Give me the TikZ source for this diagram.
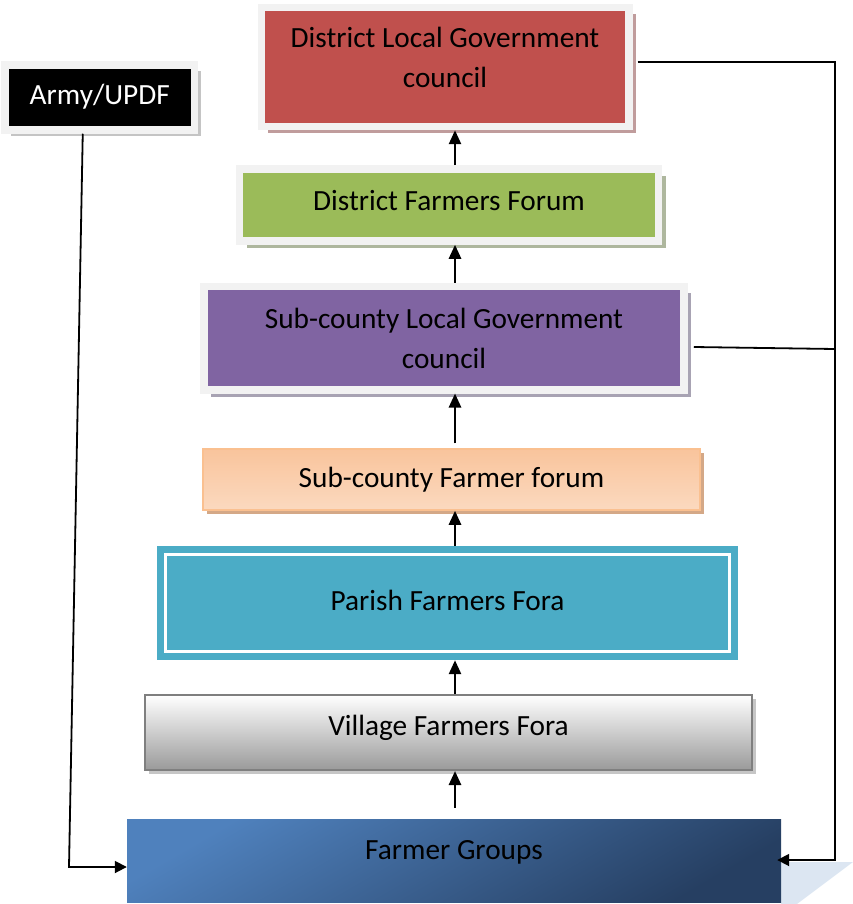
\documentclass[tikz,border=0pt]{standalone}
\usepackage{fontspec}
\setmainfont{Carlito}
\usetikzlibrary{arrows.meta,shadows}
\definecolor{framegray}{HTML}{F2F2F2}
\definecolor{dred}{HTML}{C0504D}
\definecolor{redshadow}{HTML}{C09C9C}
\definecolor{dgreen}{HTML}{9BBB59}
\definecolor{greenshadow}{HTML}{AEB79E}
\definecolor{dpurple}{HTML}{8064A2}
\definecolor{purpleshadow}{HTML}{A8A3B3}
\definecolor{armyshadow}{HTML}{C4C4C4}
\definecolor{orborder}{HTML}{FAC090}
\definecolor{ordark}{HTML}{F9C49C}
\definecolor{orlight}{HTML}{FDEADB}
\definecolor{ormid}{HTML}{FBD9BF}
\definecolor{orshadow}{HTML}{D4A887}
\definecolor{dteal}{HTML}{4BACC6}
\definecolor{vborder}{HTML}{7F7F7F}
\definecolor{vbottom}{HTML}{9A9A9A}
\definecolor{vshadow}{HTML}{C6C6C6}
\definecolor{bluelight}{HTML}{4F81BD}
\definecolor{bluedark}{HTML}{263F62}
\definecolor{paleblue}{HTML}{DCE6F2}
\begin{document}
\begin{tikzpicture}[x=1pt,y=-1pt,
  txt/.style={inner sep=0pt, align=center, font=\fontsize{29.3}{40}\selectfont},
  box/.style={inner sep=0pt},
  framed/.style={box, line width=7.5pt, draw=framegray},
  uparrow/.style={line width=2.6pt, -{Triangle[length=14pt,width=12pt]}},
  conn/.style={line width=1.8pt, -{Triangle[length=12pt,width=12pt]}},
  plain/.style={line width=1.8pt}]
\useasboundingbox (0,0) rectangle (853,904);

% pale shadow shape behind Farmer Groups
\fill[paleblue] (781,862) -- (853,862) -- (797,904) -- (781,904) -- cycle;

\node[framed, fill=black, minimum width=189.5pt, minimum height=65pt,
  drop shadow={shadow xshift=6pt, shadow yshift=-6pt, fill=armyshadow, opacity=1},
  label={[txt, text=white, yshift=1pt]center:Army/UPDF}]
  (army) at (99.75,97.5) {};

\node[framed, fill=dred, minimum width=367.5pt, minimum height=119pt,
  drop shadow={shadow xshift=7pt, shadow yshift=-7pt, fill=redshadow, opacity=1},
  label={[txt, yshift=10pt]center:{District Local Government\\council}}]
  (dlgc) at (445,67) {};

\node[framed, fill=dgreen, minimum width=419pt, minimum height=72pt,
  drop shadow={shadow xshift=7pt, shadow yshift=-7pt, fill=greenshadow, opacity=1},
  label={[txt, yshift=4pt]center:District Farmers Forum}]
  (dff) at (449,205) {};

\node[framed, fill=dpurple, minimum width=480pt, minimum height=103.5pt,
  drop shadow={shadow xshift=7pt, shadow yshift=-7pt, fill=purpleshadow, opacity=1},
  label={[txt, yshift=0pt]center:{Sub-county Local Government\\council}}]
  (sclgc) at (444,338) {};

\node[box, draw=orborder, line width=1.5pt, top color=ordark, middle color=orlight, bottom color=ormid,
  minimum width=497pt, minimum height=61pt,
  drop shadow={shadow xshift=4pt, shadow yshift=-4pt, fill=orshadow, opacity=1},
  label={[txt]center:Sub-county Farmer forum}]
  (scff) at (451.5,479.5) {};

\node[box, fill=dteal, minimum width=581pt, minimum height=114pt]
  (pff) at (447.5,603) {};
\draw[white, line width=3pt] ([shift={(9,9)}]pff.north west) rectangle ([shift={(-9,-9)}]pff.south east);
\node[txt, yshift=3pt] (pfft) at (pff.center) {Parish Farmers Fora};

\node[box, draw=vborder, line width=2pt, top color=white, bottom color=vbottom,
  minimum width=607pt, minimum height=75pt,
  drop shadow={shadow xshift=4pt, shadow yshift=-4pt, fill=vshadow, opacity=1},
  label={[txt, yshift=5pt]center:Village Farmers Fora}]
  (vff) at (448.5,732.5) {};

\node[box, minimum width=654pt, minimum height=83pt,
  shading=axis, top color=bluelight, bottom color=bluedark, shading angle=30,
  label={[txt, yshift=8pt]center:Farmer Groups}]
  (fg) at (454,860.5) {};

% vertical arrows
\coordinate (ax) at (455,0);
\draw[uparrow] ([yshift=11pt]fg.north -| ax) -- (vff.south -| ax);
\draw[uparrow] (vff.north -| ax) -- (pff.south -| ax);
\draw[uparrow] (pff.north -| ax) -- (scff.south -| ax);
\draw[uparrow] ([yshift=5pt]scff.north -| ax) -- (sclgc.south -| ax);
\draw[uparrow] (sclgc.north -| ax) -- (dff.south -| ax);
\draw[uparrow] (dff.north -| ax) -- (dlgc.south -| ax);

% right feedback rail
\coordinate (rt) at (835,62);
\coordinate (rb) at (835,860);
\coordinate (rs) at (835,349);
\draw[conn] ([shift={(5,-5)}]dlgc.east) -- (rt) -- (rb) -- ([xshift=-4pt]fg.east |- rb);
\draw[plain] ([shift={(6,9)}]sclgc.east) -- (rs);

% Army connector
\coordinate (al) at (69,867);
\draw[conn] ([xshift=-17pt]army.south) -- (al) -- (fg.west |- al);
\end{tikzpicture}
\end{document}
